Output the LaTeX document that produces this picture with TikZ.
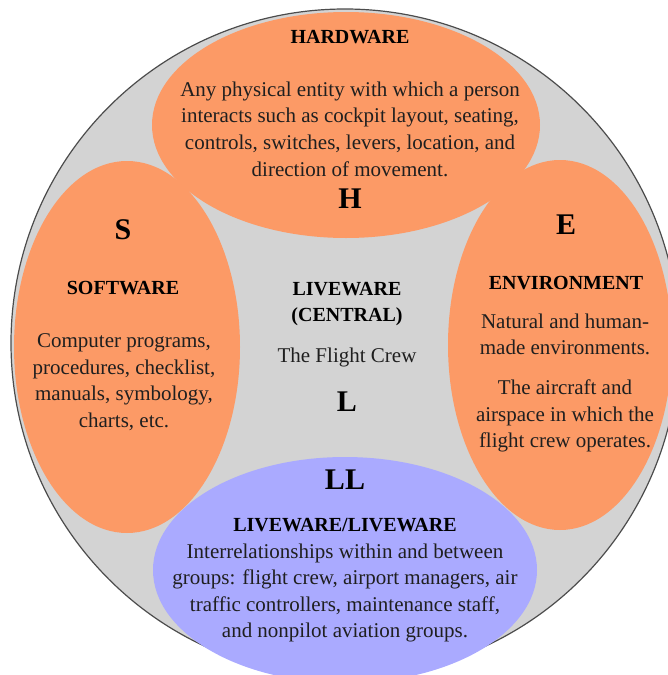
\documentclass[tikz,border=0pt]{standalone}
\usepackage{fontspec}
\setmainfont{Liberation Serif}
\usetikzlibrary{shapes.geometric}
\definecolor{shellorange}{RGB}{252,154,102}
\definecolor{shellblue}{RGB}{170,170,255}
\definecolor{shellgray}{RGB}{211,211,211}
\tikzset{
  zone/.style={ellipse, fill=shellorange, inner sep=0pt, outer sep=0pt},
  letter/.style={font=\fontsize{15}{18}\selectfont\bfseries},
  heading/.style={font=\fontsize{10}{13.3}\selectfont\bfseries, align=center},
  body/.style={font=\fontsize{10.5}{13.3}\selectfont, align=center, text=black!88},
}

\begin{document}
\begin{tikzpicture}[x=0.5pt, y=-0.5pt]

  \useasboundingbox (0,0) rectangle (668,675);
  \clip (0,0) rectangle (668,675);

  % Outer circle
  \node[circle, fill=shellgray, draw=black!70, line width=0.6pt,
        minimum size=334pt, inner sep=0pt] (shell) at (345,343) {};

  % Define zones
  \node[zone, minimum width=194pt, minimum height=113pt] (hardware) at (346,125) {};
  \node[zone, minimum width=113pt, minimum height=186pt] (software) at (127,347) {};
  \node[zone, minimum width=112pt, minimum height=185pt] (environment) at (560,345) {};
  \node[zone, fill=shellblue, minimum width=192pt, minimum height=113pt] (liveware2) at (345,570) {};

  % Hardware
  \node[heading] (hw_title) at (350,37) {HARDWARE};
  \node[body] (hw_text) at (350,129) {Any physical entity with which a person\\
    interacts such as cockpit layout, seating,\\
    controls, switches, levers, location, and\\
    direction of movement.};
  \node[letter] (hw_letter) at (350,199) {H};

  % Software
  \node[letter] (sw_letter) at (123,230) {S};
  \node[heading] (sw_title) at (123,288) {SOFTWARE};
  \node[body] (sw_text) at (124,382) {Computer programs,\\
    procedures, checklist,\\
    manuals, symbology,\\
    charts, etc.};

  % Environment
  \node[letter] (env_letter) at (566,225) {E};
  \node[heading] (env_title) at (566,283) {ENVIRONMENT};
  \node[body] (env_text) at (565,383) {Natural and human-\\
    made environments.\\[6.5pt]
    The aircraft and\\
    airspace in which the\\
    flight crew operates.};

  % Liveware (central)
  \node[heading] (lw_title) at (347,304) {LIVEWARE\\(CENTRAL)};
  \node[body] (lw_text) at (347,357) {The Flight Crew};
  \node[letter] (lw_letter) at (347,402) {L};

  % Liveware/Liveware
  \node[letter] (ll_letter) at (345,480) {LL};
  \node[heading] (ll_title) at (345,525) {LIVEWARE/LIVEWARE};
  \node[body] (ll_text) at (345,593) {Interrelationships within and between\\
    groups: flight crew, airport managers, air\\
    traffic controllers, maintenance staff,\\
    and nonpilot aviation groups.};

\end{tikzpicture}
\end{document}
